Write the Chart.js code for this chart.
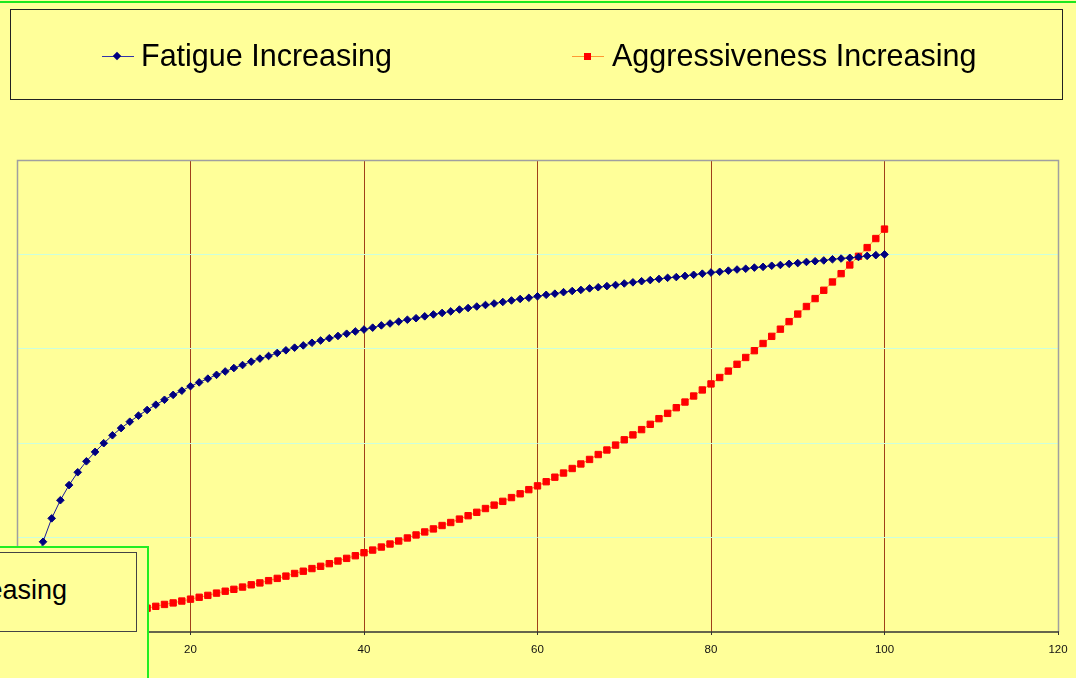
<!DOCTYPE html>
<html>
<head>
<meta charset="utf-8">
<script src="https://cdn.jsdelivr.net/npm/chart.js@4"></script>
<style>
  body { margin: 0; width: 1076px; height: 678px; overflow: hidden; position: relative;
         background: #ffff99; font-family: "Liberation Sans", Arial, sans-serif; }
  #wrap { position: absolute; left: 0; top: 0; width: 1076px; height: 678px; }
  .abs { position: absolute; }
  .txt { font-size: 30.5px; line-height: 30px; color: #000; white-space: nowrap; }
</style>
</head>
<body>
<div id="wrap"><canvas id="chart" width="1076" height="678"></canvas></div>

<!-- green strip at the very top -->
<div class="abs" style="left:0;top:1px;width:1076px;height:2px;background:#1ee61e;"></div>

<!-- legend box -->
<div class="abs" style="left:10px;top:9px;width:1053px;height:91px;border:1px solid #222;box-sizing:border-box;"></div>
<div class="abs" style="left:102px;top:56px;width:32px;height:1px;background:#3333aa;"></div>
<div class="abs" style="left:114px;top:53px;width:6px;height:6px;background:#000080;transform:rotate(45deg);"></div>
<div class="abs txt" id="leg1" style="left:141px;top:40px;"></div>
<div class="abs" style="left:572px;top:56px;width:32px;height:1px;background:#ff9933;"></div>
<div class="abs" style="left:584px;top:53px;width:7px;height:7px;background:#ff0000;"></div>
<div class="abs txt" id="leg2" style="left:612px;top:40px;"></div>

<!-- stray legend box pasted over the lower left corner -->
<div class="abs" style="left:-10px;top:546px;width:159px;height:200px;border:2px solid #22ee22;box-sizing:border-box;background:#ffff99;"></div>
<div class="abs" style="left:-10px;top:552px;width:147px;height:80px;border:1px solid #444;box-sizing:border-box;"></div>
<div class="abs" style="left:-300px;top:577px;width:367px;text-align:right;font-size:27px;line-height:27px;white-space:nowrap;">Increasing</div>

<script>
// series names
const seriesNames = ["Fatigue Increasing", "Aggressiveness Increasing"];

// x positions of the points
const xValues = [
  1, 2, 3, 4, 5, 6, 7, 8, 9, 10, 11, 12, 13, 14, 15, 16, 17, 18, 19, 20,
  21, 22, 23, 24, 25, 26, 27, 28, 29, 30, 31, 32, 33, 34, 35, 36, 37, 38, 39, 40,
  41, 42, 43, 44, 45, 46, 47, 48, 49, 50, 51, 52, 53, 54, 55, 56, 57, 58, 59, 60,
  61, 62, 63, 64, 65, 66, 67, 68, 69, 70, 71, 72, 73, 74, 75, 76, 77, 78, 79, 80,
  81, 82, 83, 84, 85, 86, 87, 88, 89, 90, 91, 92, 93, 94, 95, 96, 97, 98, 99, 100
];

// blue curve
const fatigue = [
  0.000, 0.151, 0.239, 0.301, 0.349, 0.389, 0.423, 0.452, 0.477, 0.500,
  0.521, 0.540, 0.557, 0.573, 0.588, 0.602, 0.615, 0.628, 0.639, 0.651,
  0.661, 0.671, 0.681, 0.690, 0.699, 0.707, 0.716, 0.724, 0.731, 0.739,
  0.746, 0.753, 0.759, 0.766, 0.772, 0.778, 0.784, 0.790, 0.796, 0.801,
  0.806, 0.812, 0.817, 0.822, 0.827, 0.831, 0.836, 0.841, 0.845, 0.849,
  0.854, 0.858, 0.862, 0.866, 0.870, 0.874, 0.878, 0.882, 0.885, 0.889,
  0.893, 0.896, 0.900, 0.903, 0.906, 0.910, 0.913, 0.916, 0.919, 0.923,
  0.926, 0.929, 0.932, 0.935, 0.938, 0.940, 0.943, 0.946, 0.949, 0.952,
  0.954, 0.957, 0.960, 0.962, 0.965, 0.967, 0.970, 0.972, 0.975, 0.977,
  0.980, 0.982, 0.984, 0.987, 0.989, 0.991, 0.993, 0.996, 0.998, 1.000
];

// red curve
const aggressiveness = [
  0.004, 0.007, 0.011, 0.015, 0.019, 0.023, 0.027, 0.031, 0.036, 0.040,
  0.044, 0.049, 0.054, 0.058, 0.063, 0.068, 0.073, 0.077, 0.082, 0.087,
  0.092, 0.097, 0.103, 0.108, 0.113, 0.119, 0.125, 0.130, 0.136, 0.142,
  0.148, 0.155, 0.161, 0.168, 0.174, 0.181, 0.188, 0.195, 0.202, 0.210,
  0.217, 0.225, 0.233, 0.241, 0.249, 0.257, 0.265, 0.273, 0.282, 0.290,
  0.299, 0.308, 0.317, 0.327, 0.336, 0.346, 0.356, 0.366, 0.377, 0.387,
  0.398, 0.410, 0.421, 0.433, 0.445, 0.457, 0.470, 0.482, 0.495, 0.509,
  0.522, 0.536, 0.550, 0.565, 0.579, 0.594, 0.609, 0.625, 0.641, 0.657,
  0.674, 0.691, 0.709, 0.727, 0.745, 0.764, 0.783, 0.802, 0.822, 0.842,
  0.862, 0.883, 0.905, 0.927, 0.949, 0.972, 0.995, 1.018, 1.042, 1.067
];

// axis ranges
const xMin = 0, xMax = 120, xStep = 20;
const yMin = 0, yMax = 1.25, yStep = 0.25;

document.getElementById("leg1").innerText = seriesNames[0];
document.getElementById("leg2").innerText = seriesNames[1];

const toPoints = (ys) => xValues.map((x, i) => ({ x: x, y: ys[i] }));

// grey frame round the plot, dark axis line at the bottom
const framePlugin = {
  id: "frame",
  beforeDatasetsDraw(chart) {
    const a = chart.chartArea;
    const ctx = chart.ctx;
    ctx.save();
    ctx.strokeStyle = "#a0a0a0";
    ctx.lineWidth = 1.5;
    ctx.beginPath();
    ctx.moveTo(Math.round(a.left) + 0.5, Math.round(a.bottom));
    ctx.lineTo(Math.round(a.left) + 0.5, Math.round(a.top) + 0.5);
    ctx.lineTo(Math.round(a.right) + 0.5, Math.round(a.top) + 0.5);
    ctx.lineTo(Math.round(a.right) + 0.5, Math.round(a.bottom));
    ctx.stroke();
    ctx.strokeStyle = "#333";
    ctx.lineWidth = 1.5;
    ctx.beginPath();
    ctx.moveTo(a.left, Math.round(a.bottom));
    ctx.lineTo(a.right + 1, Math.round(a.bottom));
    ctx.stroke();
    ctx.restore();
  }
};

new Chart(document.getElementById("chart"), {
  type: "line",
  data: {
    datasets: [
      {
        label: seriesNames[0],
        data: toPoints(fatigue),
        borderColor: "#1a1a99",
        borderWidth: 1,
        pointStyle: "rectRot",
        pointRadius: 3.8,
        pointBackgroundColor: "#000080",
        pointBorderColor: "#000080",
        pointBorderWidth: 1,
        tension: 0,
        fill: false,
      },
      {
        label: seriesNames[1],
        data: toPoints(aggressiveness),
        borderColor: "#ff9933",
        borderWidth: 1,
        pointStyle: "rect",
        pointRadius: 4.5,
        pointBackgroundColor: "#ff0000",
        pointBorderColor: "#ff0000",
        pointBorderWidth: 1,
        tension: 0,
        fill: false,
      },
    ],
  },
  options: {
    responsive: false,
    animation: false,
    events: [],
    layout: { padding: { left: 17, right: 18, top: 160, bottom: 0 } },
    plugins: { legend: { display: false }, tooltip: { enabled: false } },
    scales: {
      x: {
        type: "linear",
        min: xMin,
        max: xMax,
        afterFit: (s) => { s.height = 46; },
        border: { display: false },
        grid: {
          color: (c) => (c.tick && (c.tick.value === xMin || c.tick.value === xMax)) ? "rgba(0,0,0,0)" : "#a0401a",
          tickColor: "#333",
          tickLength: 3,
          lineWidth: 1,
        },
        ticks: {
          stepSize: xStep,
          padding: 8,
          color: "#111",
          font: { family: "'Liberation Sans', Arial, sans-serif", size: 11.5 },
          maxRotation: 0,
        },
      },
      y: {
        min: yMin,
        max: yMax,
        afterFit: (s) => { s.width = 0; },
        border: { display: false },
        grid: {
          color: (c) => (c.tick && (c.tick.value === yMin || c.tick.value === yMax)) ? "rgba(0,0,0,0)" : "#ccffdd",
          drawTicks: false,
          lineWidth: 1,
        },
        ticks: { display: false, stepSize: yStep },
      },
    },
  },
  plugins: [framePlugin],
});
</script>
</body>
</html>
